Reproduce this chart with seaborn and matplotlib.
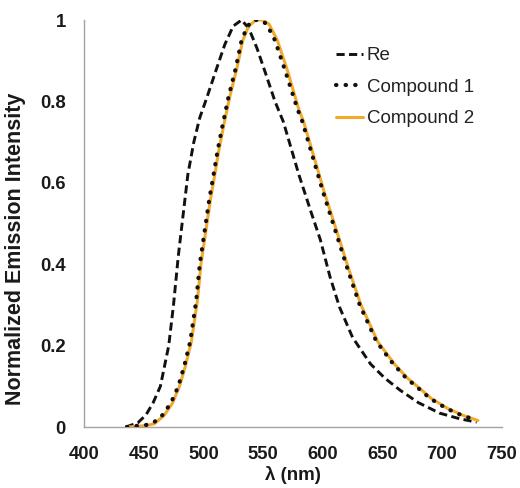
import matplotlib
matplotlib.use("Agg")
import matplotlib.pyplot as plt
import seaborn as sns
import numpy as np

sns.set_style("white")
plt.rcParams['font.family'] = ['Liberation Sans', 'DejaVu Sans']

re_x = [435, 445, 452, 458, 464, 471, 475, 479, 483, 487, 492, 497, 503, 511, 518,
        525, 532, 538, 545, 552, 560, 567, 580, 590, 598, 606, 614, 625, 640, 652,
        665, 680, 698, 715, 729]
re_y = [0.0, 0.01, 0.03, 0.06, 0.10, 0.20, 0.30, 0.42, 0.52, 0.62, 0.70, 0.76, 0.81,
        0.88, 0.94, 0.985, 1.0, 0.98, 0.93, 0.87, 0.80, 0.75, 0.62, 0.53, 0.46, 0.37,
        0.295, 0.22, 0.155, 0.12, 0.09, 0.06, 0.034, 0.02, 0.012]

c1_x = [436, 445, 452, 458, 466, 473, 479, 484, 489, 494, 497, 501, 505, 508, 512,
        516, 521, 527, 532, 537, 542, 548, 553, 560, 568, 579, 583, 592, 600, 613,
        621, 631, 645, 659, 670, 679, 690, 704, 717, 729]
c1_y = [0.0, 0.003, 0.005, 0.01, 0.03, 0.06, 0.10, 0.15, 0.21, 0.31, 0.40, 0.48, 0.56,
        0.61, 0.68, 0.74, 0.81, 0.88, 0.95, 0.985, 1.0, 1.0, 0.99, 0.95, 0.88, 0.78,
        0.75, 0.66, 0.58, 0.46, 0.386, 0.30, 0.21, 0.155, 0.12, 0.098, 0.07, 0.045,
        0.028, 0.017]

c2_x = [437, 446, 453, 459, 467, 474, 480, 485, 490, 495, 498, 502, 506, 509, 513,
        517, 522, 528, 533, 538, 544, 550, 555, 562, 570, 580, 584, 593, 601, 614,
        622, 632, 646, 660, 671, 680, 691, 705, 718, 730]
c2_y = [0.0, 0.002, 0.004, 0.008, 0.028, 0.058, 0.10, 0.15, 0.21, 0.31, 0.40, 0.48,
        0.56, 0.61, 0.68, 0.74, 0.81, 0.88, 0.95, 0.985, 1.0, 1.0, 0.99, 0.95, 0.88,
        0.78, 0.75, 0.66, 0.58, 0.46, 0.386, 0.30, 0.21, 0.155, 0.12, 0.098, 0.07,
        0.045, 0.028, 0.016]

x_ticks = [400, 450, 500, 550, 600, 650, 700, 750]
y_ticks = [0, 0.2, 0.4, 0.6, 0.8, 1]
y_tick_labels = ["0", "0.2", "0.4", "0.6", "0.8", "1"]

fig = plt.figure(figsize=(5.2, 4.88), dpi=100)
ax = fig.add_axes([0.1615, 0.125, 0.8035, 0.834])

orange = "#F2AA2C"
sns.lineplot(x=re_x, y=re_y, ax=ax, color="#111111", lw=2.1, label="Re",
             linestyle=(0, (2.8, 1.5)))
sns.lineplot(x=c1_x, y=c1_y, ax=ax, color="#111111", lw=3.0, label="Compound 1",
             linestyle=(0, (0.1, 2.2)), dash_capstyle="round")
sns.lineplot(x=c2_x, y=c2_y, ax=ax, color=orange, lw=2.2, label="Compound 2")
ax.get_lines()[1].set_zorder(5)

ax.set_xlim(400, 750)
ax.set_ylim(0, 1)
ax.set_xticks(x_ticks)
ax.set_yticks(y_ticks)
ax.set_yticklabels(y_tick_labels)
for s in ["top", "right"]:
    ax.spines[s].set_visible(False)
for s in ["left", "bottom"]:
    ax.spines[s].set_color("#A8A0A0")
    ax.spines[s].set_linewidth(1.0)
ax.tick_params(axis="both", direction="out", length=5, width=1.0, color="#A8A0A0",
               labelsize=13.3, labelcolor="#1a1a1a")
ax.tick_params(axis="x", pad=9)
ax.tick_params(axis="y", pad=8)
for lab in ax.get_xticklabels() + ax.get_yticklabels():
    lab.set_fontweight("bold")
ax.set_xlabel("λ (nm)", fontsize=13.5, fontweight="bold", color="#1a1a1a", labelpad=2)
ax.set_ylabel("Normalized Emission Intensity", fontsize=15.5, fontweight="bold",
              color="#1a1a1a")
ax.yaxis.set_label_coords(-0.138, 0.437)

leg = ax.legend(loc="upper left", bbox_to_anchor=(0.585, 0.952), frameon=False,
                fontsize=13.5, handlelength=1.45, handletextpad=0.2,
                labelspacing=0.77, borderaxespad=0)
for t in leg.get_texts():
    t.set_color("#222222")

fig.savefig("out.png", dpi=100)
